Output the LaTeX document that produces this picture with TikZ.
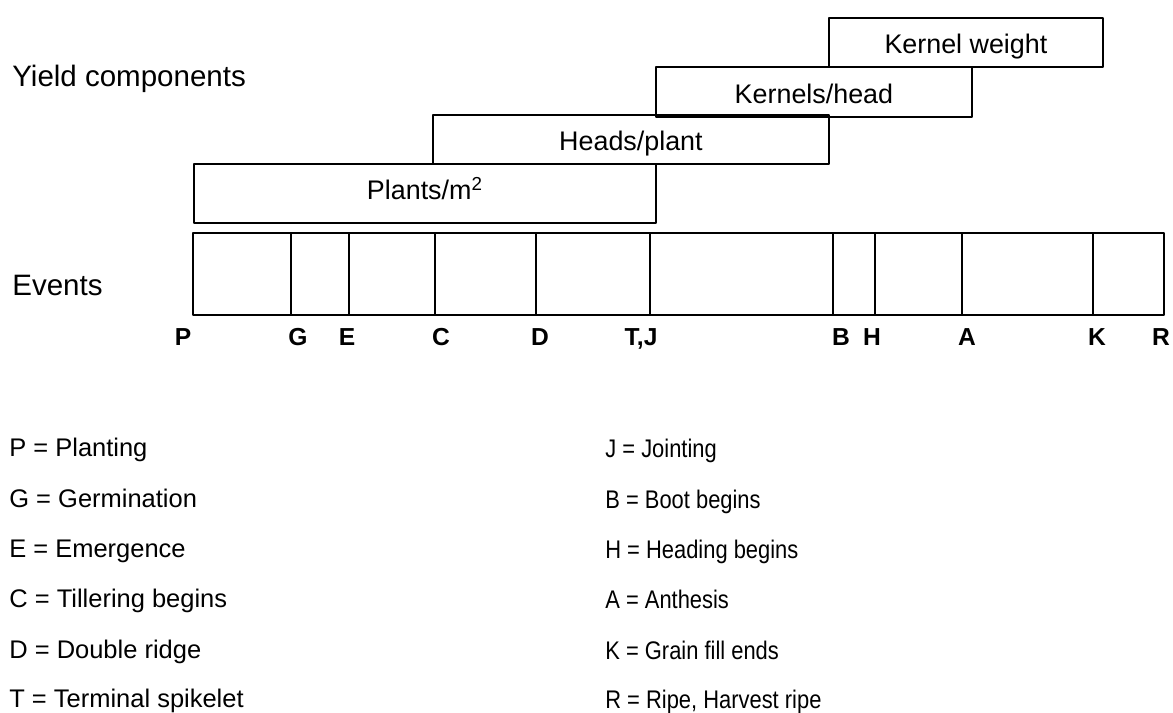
\documentclass[tikz,border=0pt]{standalone}
\usepackage{fontspec}
\setmainfont{Liberation Sans}
\newfontfamily\narrowsans[FakeStretch=0.86]{Liberation Sans}
\begin{document}
\begin{tikzpicture}[x=0.02cm, y=-0.02cm, line cap=round, line join=round]

% --- Global TikZ Styles ---
\tikzset{
    component/.style={
        draw=black,
        line width=1.1pt,
        anchor=north west,
        inner sep=0pt,
        text height=13.5pt,
        text depth=0.5pt,
        font=\fontsize{15.3}{17}\selectfont
    },
    eventbox/.style={
        draw=black,
        line width=1.1pt
    },
    eventlabel/.style={
        anchor=base,
        font=\fontsize{14}{16}\selectfont\bfseries,
        inner sep=0pt
    },
    sidelabel/.style={
        anchor=base west,
        inner sep=0pt,
        font=\fontsize{16.8}{19}\selectfont
    },
    legendleft/.style={
        anchor=base west,
        inner sep=0pt,
        font=\fontsize{14.5}{17}\selectfont
    },
    legendright/.style={
        anchor=base west,
        inner sep=0pt,
        font=\narrowsans\fontsize{14.5}{17}\selectfont
    }
}

\useasboundingbox (0,0) rectangle (1173,713);

% =========================================================================
% --- Yield components ---
% =========================================================================

\node[sidelabel] (yieldlbl) at (12,87) {Yield components};

\node[component, minimum width=9.24cm, minimum height=1.18cm,
      text height=8pt, text depth=0.6pt]
    (plants) at (193,163) {Plants/m\textsuperscript{2}};
\node[component, minimum width=7.92cm, minimum height=0.98cm]
    (heads) at (432,114) {Heads/plant};
\node[component, minimum width=6.32cm, minimum height=1.0cm]
    (kernels) at (655,66) {Kernels/head};
\node[component, minimum width=5.48cm, minimum height=0.98cm]
    (weight) at (828,17) {Kernel weight};

% =========================================================================
% --- Events ---
% =========================================================================

\node[sidelabel] (eventslbl) at (12,295) {Events};

\draw[eventbox] (193,233) rectangle (1164,315);

% --- Scheidingslijnen tussen de stadia ---
\foreach \xd in {291,349,435,536,650,833,875,962,1093}
    \draw[eventbox] (\xd,233) -- (\xd,315);

% --- Letters onder de balk ---
\foreach \xl/\lbl/\nm in {183/P/evP, 298/G/evG, 347/E/evE, 441/C/evC,
                          540/D/evD, 641/{T,J}/evTJ, 841/B/evB, 872/H/evH,
                          967/A/evA, 1097/K/evK, 1161/R/evR}
    \node[eventlabel] (\nm) at (\xl,345) {\lbl};

% =========================================================================
% --- Legenda ---
% =========================================================================

\node[legendleft] (lgP) at (9,456) {P = Planting};
\node[legendleft] (lgG) at (9,507) {G = Germination};
\node[legendleft] (lgE) at (9,557) {E = Emergence};
\node[legendleft] (lgC) at (9,607) {C = Tillering begins};
\node[legendleft] (lgD) at (9,658) {D = Double ridge};
\node[legendleft] (lgT) at (9,707) {T = Terminal spikelet};

\node[legendright] (lgJ) at (605,457) {J = Jointing};
\node[legendright] (lgB) at (605,508) {B = Boot begins};
\node[legendright] (lgH) at (605,558) {H = Heading begins};
\node[legendright] (lgA) at (605,608) {A = Anthesis};
\node[legendright] (lgK) at (605,659) {K = Grain fill ends};
\node[legendright] (lgR) at (605,708) {R = Ripe, Harvest ripe};

\end{tikzpicture}
\end{document}
